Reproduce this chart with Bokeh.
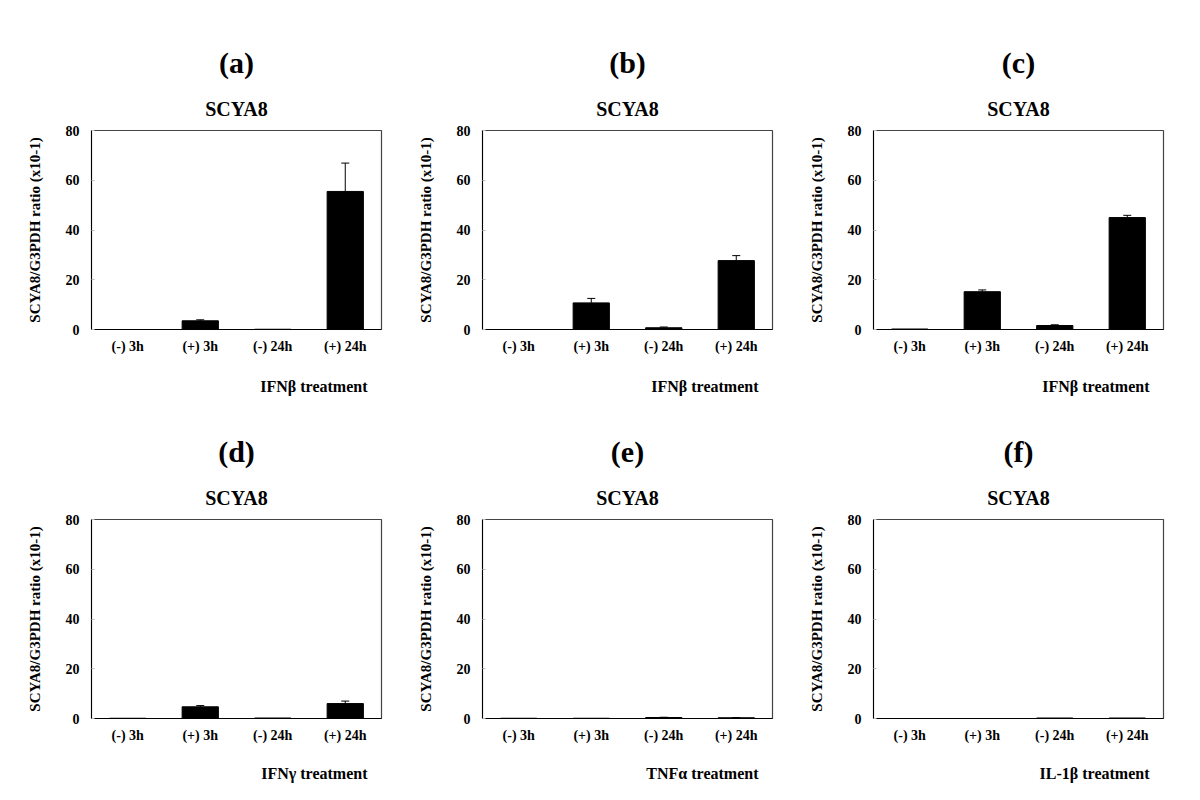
from bokeh.plotting import figure
from bokeh.layouts import gridplot
from bokeh.models import ColumnDataSource, Whisker, TeeHead, Title, FactorRange, SingleIntervalTicker
from bokeh.embed import file_html
from bokeh.resources import INLINE

categories = ["(-) 3h", "(+) 3h", "(-) 24h", "(+) 24h"]
panel_labels = ["(a)", "(b)", "(c)", "(d)", "(e)", "(f)"]
gene = "SCYA8"
y_label = "SCYA8/G3PDH ratio (x10-1)"
treatments = ["IFN\u03b2 treatment", "IFN\u03b2 treatment", "IFN\u03b2 treatment",
              "IFN\u03b3 treatment", "TNF\u03b1 treatment", "IL-1\u03b2 treatment"]

means_a = [0.0, 3.5, 0.1, 55.5]
err_a = [0.0, 0.4, 0.0, 11.4]
means_b = [0.0, 10.7, 0.7, 27.7]
err_b = [0.0, 1.8, 0.3, 2.0]
means_c = [0.2, 15.2, 1.6, 45.0]
err_c = [0.0, 0.7, 0.3, 0.9]
means_d = [0.1, 4.7, 0.2, 6.0]
err_d = [0.0, 0.5, 0.0, 1.0]
means_e = [0.1, 0.1, 0.4, 0.3]
err_e = [0.0, 0.0, 0.1, 0.1]
means_f = [0.0, 0.0, 0.2, 0.2]
err_f = [0.0, 0.0, 0.0, 0.0]

all_means = [means_a, means_b, means_c, means_d, means_e, means_f]
all_errs = [err_a, err_b, err_c, err_d, err_e, err_f]

FONT = "Liberation Serif"


def make_panel(label, treat, means, errs, row, col):
    left, frame_w = 91, 290
    right = 32 if col == 2 else 10
    if row == 0:
        top, bottom, treat_standoff = 130, 85, 38
    else:
        top, bottom, treat_standoff = 105, 81, 34
    p = figure(x_range=FactorRange(*categories, range_padding=0), y_range=(0, 80),
               width=left + frame_w + right, height=top + 199 + bottom,
               output_backend="svg", toolbar_location=None,
               min_border_left=left, min_border_right=right,
               min_border_top=top, min_border_bottom=bottom)
    p.xgrid.grid_line_color = None
    p.ygrid.grid_line_color = None
    p.outline_line_color = "#444444"
    p.outline_line_width = 1.2
    p.background_fill_color = "white"
    p.border_fill_color = "white"

    src = ColumnDataSource(dict(cat=categories, top=means))
    p.vbar(x="cat", top="top", width=0.5, source=src, fill_color="black", line_color="black")

    ecat = [c for c, e in zip(categories, errs) if e > 0]
    elow = [m for m, e in zip(means, errs) if e > 0]
    eup = [m + e for m, e in zip(means, errs) if e > 0]
    esrc = ColumnDataSource(dict(cat=ecat, lower=elow, upper=eup))
    w = Whisker(source=esrc, base="cat", lower="lower", upper="upper",
                lower_head=None, upper_head=TeeHead(size=8, line_color="black", line_width=1),
                line_color="black", line_width=1)
    p.add_layout(w)

    # panel letter (outer) and gene name (inner)
    p.title.text = label
    p.title.align = "center"
    p.title.text_font = FONT
    p.title.text_font_size = "30px"
    p.title.text_font_style = "bold"
    p.title.text_color = "black"
    p.title.standoff = 13
    p.add_layout(Title(text=gene, align="center", text_font=FONT, text_font_size="20px",
                       text_font_style="bold", text_color="black", standoff=21), "above")
    p.add_layout(Title(text=treat, align="right", offset=14, standoff=treat_standoff, text_font=FONT,
                       text_font_size="16px", text_font_style="bold", text_color="black"), "below")

    # y axis
    p.yaxis.ticker = SingleIntervalTicker(interval=20)
    p.yaxis.major_label_text_font = FONT
    p.yaxis.major_label_text_font_style = "bold"
    p.yaxis.major_label_text_font_size = "14px"
    p.yaxis.major_label_text_color = "black"
    p.yaxis.major_tick_out = 0
    p.yaxis.major_tick_in = 3
    p.yaxis.major_tick_line_color = "#bbbbbb"
    p.yaxis.minor_tick_line_color = None
    p.yaxis.major_label_standoff = 8
    p.yaxis.axis_line_color = "black"
    p.yaxis.axis_label = y_label
    p.yaxis.axis_label_text_font = FONT
    p.yaxis.axis_label_text_font_style = "bold"
    p.yaxis.axis_label_text_font_size = "15px"
    p.yaxis.axis_label_text_color = "black"
    p.yaxis.axis_label_standoff = 20

    # x axis
    p.xaxis.major_label_text_font = FONT
    p.xaxis.major_label_text_font_style = "bold"
    p.xaxis.major_label_text_font_size = "14px"
    p.xaxis.major_label_text_color = "black"
    p.xaxis.major_tick_line_color = None
    p.xaxis.major_label_standoff = 3
    p.xaxis.axis_line_color = "black"
    p.xaxis.axis_line_width = 1.2
    return p


panels = [make_panel(l, t, m, e, i // 3, i % 3)
          for i, (l, t, m, e) in enumerate(zip(panel_labels, treatments, all_means, all_errs))]
grid = gridplot([panels[:3], panels[3:]], toolbar_location=None)

open("out.html", "w").write(file_html(grid, INLINE))
